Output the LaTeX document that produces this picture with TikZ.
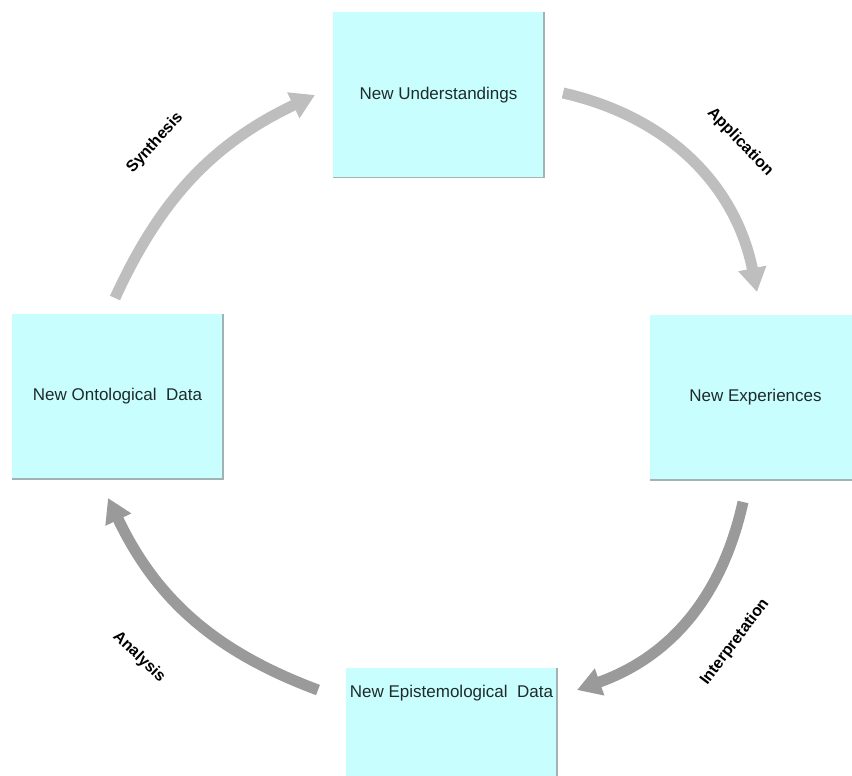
\documentclass[tikz,border=0pt]{standalone}
\usepackage{fontspec}
\setmainfont{Liberation Sans}
\usetikzlibrary{arrows.meta}
\definecolor{cyanbox}{HTML}{C9FEFF}
\definecolor{lgrey}{HTML}{BEBEBE}
\definecolor{dgrey}{HTML}{9A9A9A}
\definecolor{edge}{HTML}{A3B2B2}
\definecolor{ink}{HTML}{1E2B2B}

\begin{document}
\begin{tikzpicture}[x=1pt,y=1pt]
    \tikzset{%
      box/.style={rectangle, fill=cyanbox, inner sep=0pt, minimum
        width=211pt, minimum height=165pt},
      boxtext/.style={font=\fontsize{17}{20}\selectfont, text=ink, inner sep=0pt},
      shadow/.style={edge, line width=1.5pt},
      lbl/.style={font=\fontsize{16}{19}\selectfont\bfseries, inner sep=0pt},
      larr/.style={lgrey, line width=11pt, -{Triangle[length=24pt,width=27pt]}},
      darr/.style={dgrey, line width=11pt, -{Triangle[length=24pt,width=27pt]}},
    }
    \useasboundingbox (0,0) rectangle (852,-776);

    \node[box] (U) at (438.5,-95) {};
    \node[boxtext] (Utxt) at (U) {New Understandings};
    \draw [shadow] (U.north east) -- (U.south east) -- (U.south west);

    \node[box] (X) at (755.5,-397.5) {};
    \node[boxtext] (Xtxt) at (X) {New Experiences};
    \draw [shadow] (X.south east) -- (X.south west);

    \node[box] (E) at (451.5,-750.5) {};
    \node[boxtext] (Etxt) at (451.5,-693) {New Epistemological\ \ Data};
    \draw [shadow] (E.north east) -- (E.south east);

    \node[box] (O) at (117.5,-396.5) {};
    \node[boxtext] (Otxt) at (O) {New Ontological\ \ Data};
    \draw [shadow] (O.north east) -- (O.south east) -- (O.south west);

    \coordinate (s0) at (115,-298);
    \coordinate (s1) at (315,-95);
    \draw [larr] (s0) to[bend left=20] (s1);
    \node[lbl, rotate=48] (syn) at (155,-143) {Synthesis};

    \coordinate (a0) at (563,-93);
    \coordinate (a1) at (757,-292);
    \draw [larr] (a0) to[bend left=33] (a1);
    \node[lbl, rotate=-46] (app) at (740,-142) {Application};

    \coordinate (i0) at (743,-502);
    \coordinate (i1) at (577,-690);
    \draw [darr] (i0) to[bend left=29] (i1);
    \node[lbl, rotate=53] (int) at (735,-642) {Interpretation};

    \coordinate (n0) at (318,-690);
    \coordinate (n1) at (108,-498);
    \draw [darr] (n0) to[bend left=22] (n1);
    \node[lbl, rotate=-44] (ana) at (139,-657) {Analysis};
  \end{tikzpicture}
\end{document}
